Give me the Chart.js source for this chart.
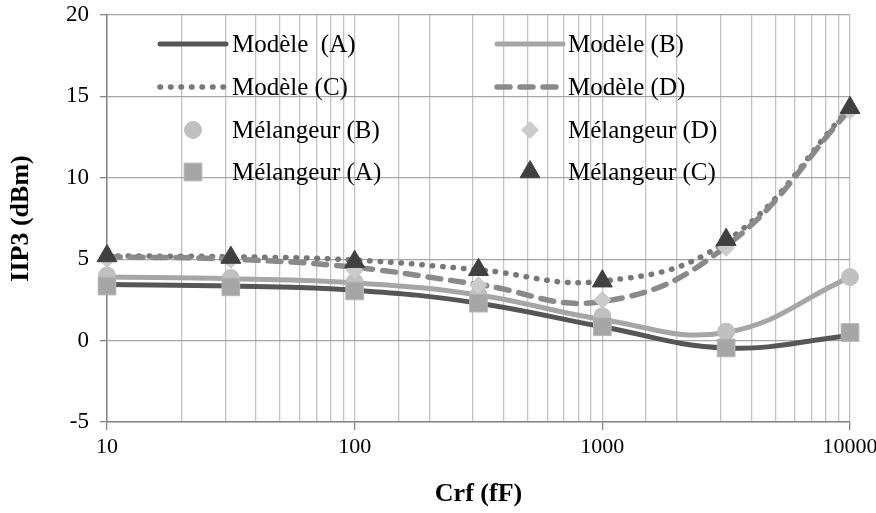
<!DOCTYPE html>
<html>
<head>
<meta charset="utf-8">
<script src="https://cdn.jsdelivr.net/npm/chart.js@4/dist/chart.umd.min.js"></script>
<style>
html,body{margin:0;padding:0;background:#fff;}
#wrap{width:876px;height:513px;position:relative;}
</style>
</head>
<body>
<div id="wrap"><canvas id="c" width="876" height="513"></canvas></div>
<script>
// ---- data ----
const crf = [10, 31.62, 100, 316.2, 1000, 3162, 10000];
const modeleA = [3.45, 3.35, 3.1, 2.3, 0.85, -0.45, 0.3];
const modeleB = [3.9, 3.8, 3.55, 2.8, 1.3, 0.5, 3.9];
const modeleC = [5.2, 5.15, 4.95, 4.35, 3.65, 6.1, 14.3];
const modeleD = [5.15, 5.0, 4.5, 3.45, 2.4, 5.8, 14.2];
const melangeurB = [4.0, 3.85, 3.6, 2.8, 1.5, 0.55, 3.9];
const melangeurD = [5.0, 4.95, 4.3, 3.4, 2.5, 5.7, 14.1];
const melangeurA = [3.35, 3.3, 3.05, 2.3, 0.85, -0.45, 0.5];
const melangeurC = [5.2, 5.1, 4.85, 4.35, 3.65, 6.2, 14.3];
const xTickLabels = ['10', '100', '1000', '10000'];
const yTickValues = [-5, 0, 5, 10, 15, 20];
const seriesNames = ['Modèle  (A)', 'Modèle (B)', 'Modèle (C)', 'Modèle (D)',
  'Mélangeur (B)', 'Mélangeur (D)', 'Mélangeur (A)', 'Mélangeur (C)'];

const pts = (ys) => crf.map((x, i) => ({x: x, y: ys[i]}));
const FONT = '"Liberation Serif", "Times New Roman", serif';

const lineDs = (label, ys, color, width, dash, order) => ({
  label, data: pts(ys), borderColor: color, borderWidth: width, borderDash: dash,
  borderCapStyle: 'round', pointRadius: 0, pointHoverRadius: 0, tension: 0.42,
  fill: false, showLine: true, clip: false, order
});
const markDs = (label, ys, color, style, radius, order, border) => ({
  label, data: pts(ys), showLine: false, pointStyle: style, pointRadius: radius,
  pointBackgroundColor: color, pointBorderColor: border || color, pointBorderWidth: 1,
  clip: false, order
});

const datasets = [
  lineDs(seriesNames[0], modeleA, '#565656', 5, [], 7),
  lineDs(seriesNames[1], modeleB, '#a6a6a6', 5, [], 6),
  lineDs(seriesNames[2], modeleC, '#787878', 5.5, [0.5, 10], 5),
  lineDs(seriesNames[3], modeleD, '#8a8a8a', 5.5, [13, 10], 4),
  markDs(seriesNames[4], melangeurB, '#c0c0c0', 'circle', 8.5, 3),
  markDs(seriesNames[5], melangeurD, '#cbcbcb', 'rectRot', 8.5, 2),
  markDs(seriesNames[6], melangeurA, '#a6a6a6', 'rect', 12.5, 1, '#b4b4b4'),
  markDs(seriesNames[7], melangeurC, '#404040', 'triangle', 11.5, 0)
];

const isLabelTick = (v) => Math.abs(v - Math.round(v)) < 1e-6 && xTickLabels.includes(String(Math.round(v)));

// legend drawn inside the plot area (two columns, four rows)
const legendPlugin = {
  id: 'insideLegend',
  afterDatasetsDraw(chart) {
    const ctx = chart.ctx;
    const rows = [44, 87, 130, 172];
    const cols = [{x0: 160, x1: 226, tx: 232}, {x0: 497, x1: 563, tx: 568}];
    const layout = [[0, 1], [2, 3], [4, 5], [6, 7]];
    ctx.save();
    ctx.font = '25px ' + FONT;
    ctx.textBaseline = 'middle';
    layout.forEach((pair, r) => {
      pair.forEach((di, c) => {
        const ds = chart.data.datasets[di];
        const y = rows[r];
        const col = cols[c];
        if (ds.showLine) {
          ctx.save();
          ctx.strokeStyle = ds.borderColor;
          ctx.lineWidth = ds.borderWidth;
          ctx.lineCap = 'round';
          ctx.setLineDash(ds.borderDash || []);
          ctx.beginPath();
          ctx.moveTo(col.x0, y);
          ctx.lineTo(col.x1, y);
          ctx.stroke();
          ctx.restore();
        } else {
          ctx.save();
          ctx.fillStyle = ds.pointBackgroundColor;
          ctx.strokeStyle = ds.pointBorderColor;
          ctx.lineWidth = 1;
          Chart.helpers.drawPoint(ctx, {pointStyle: ds.pointStyle, radius: ds.pointRadius, rotation: 0, borderWidth: 1}, (col.x0 + col.x1) / 2, y);
          ctx.restore();
        }
        ctx.fillStyle = '#000';
        ctx.fillText(ds.label, col.tx, y + 1);
      });
    });
    ctx.restore();
  }
};

new Chart(document.getElementById('c'), {
  type: 'line',
  data: {datasets},
  plugins: [legendPlugin],
  options: {
    responsive: false,
    animation: false,
    events: [],
    layout: {padding: {left: 0, top: 15, right: 26, bottom: 0}},
    plugins: {legend: {display: false}, tooltip: {enabled: false}},
    scales: {
      x: {
        type: 'logarithmic', min: 10, max: 10000,
        grid: {
          color: '#c2c2c2', lineWidth: 1.3, tickLength: 8,
          tickColor: (c) => (c.tick && isLabelTick(c.tick.value)) ? '#868686' : 'rgba(0,0,0,0)'
        },
        border: {color: '#868686', width: 1.5},
        ticks: {
          autoSkip: false, maxRotation: 0, padding: 4, color: '#000',
          font: {family: FONT, size: 22},
          callback: (v) => isLabelTick(v) ? String(Math.round(v)) : ''
        },
        title: {display: true, text: 'Crf (fF)', color: '#000', padding: {top: 0, bottom: 3},
          font: {family: FONT, size: 26, weight: 'bold'}},
        afterFit: (s) => { s.height = 91; s.paddingLeft = 0; s.paddingRight = 0; }
      },
      y: {
        min: -5, max: 20,
        afterBuildTicks: (s) => { s.ticks = yTickValues.map(v => ({value: v})); },
        grid: {color: '#a6a6a6', lineWidth: 1.3, tickLength: 7, tickColor: '#868686'},
        border: {color: '#868686', width: 1.5},
        ticks: {padding: 11, color: '#000', font: {family: FONT, size: 23}},
        title: {display: true, text: 'IIP3 (dBm)', color: '#000', padding: {top: 6, bottom: 0},
          font: {family: FONT, size: 26, weight: 'bold'}},
        afterFit: (s) => { s.width = 107; s.paddingTop = 0; s.paddingBottom = 0; }
      }
    }
  }
});
</script>
</body>
</html>
